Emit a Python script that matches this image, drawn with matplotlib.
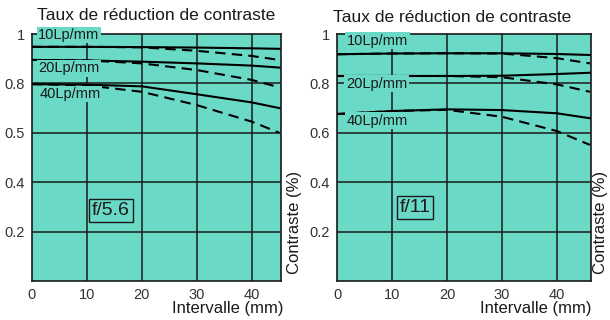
import matplotlib.pyplot as plt

# Distances from image centre (mm)
x_pts = [0, 10, 20, 30, 40, 45]
x_pts_r = [0, 10, 20, 30, 40, 46]

# f/5.6 panel: solid (sagittal) and dashed (meridional) curves
f56_10_solid = [0.948, 0.948, 0.947, 0.945, 0.942, 0.940]
f56_10_dash = [0.948, 0.948, 0.946, 0.932, 0.911, 0.895]
f56_20_solid = [0.895, 0.893, 0.888, 0.881, 0.872, 0.864]
f56_20_dash = [0.895, 0.893, 0.881, 0.854, 0.814, 0.784]
f56_40_solid = [0.797, 0.795, 0.788, 0.756, 0.723, 0.700]
f56_40_dash = [0.797, 0.792, 0.766, 0.712, 0.645, 0.600]

# f/11 panel
f11_10_solid = [0.918, 0.921, 0.922, 0.922, 0.919, 0.915]
f11_10_dash = [0.918, 0.921, 0.922, 0.921, 0.902, 0.881]
f11_20_solid = [0.830, 0.830, 0.830, 0.831, 0.838, 0.843]
f11_20_dash = [0.830, 0.830, 0.830, 0.825, 0.796, 0.766]
f11_40_solid = [0.676, 0.688, 0.695, 0.692, 0.679, 0.659]
f11_40_dash = [0.676, 0.688, 0.693, 0.665, 0.607, 0.551]

y_ticks = [0.2, 0.4, 0.6, 0.8, 1.0]
y_labels_left = ['0.2', '0.4', '0.5', '0.8', '1']
y_labels_right = ['0.2', '0.4', '0.6', '0.8', '1']
x_ticks = [0, 10, 20, 30, 40]
x_labels = ['0', '10', '20', '30', '40']

TEAL = '#6ad9c6'
INK = '#1a1a1a'

plt.rcParams['font.family'] = ['Liberation Sans', 'DejaVu Sans']

fig = plt.figure(figsize=(6.1, 3.2), dpi=100)
fig.patch.set_facecolor('white')

ax1 = fig.add_axes([32 / 610, 1 - 281 / 320, 249 / 610, 247 / 320])
ax2 = fig.add_axes([337 / 610, 1 - 281 / 320, 254 / 610, 247 / 320])


def setup(ax, xmax, ylabels):
    ax.set_facecolor(TEAL)
    ax.set_xlim(0, xmax)
    ax.set_ylim(0, 1.0)
    ax.set_xticks(x_ticks)
    ax.set_xticklabels(x_labels)
    ax.set_yticks(y_ticks)
    ax.set_yticklabels(ylabels)
    ax.tick_params(length=0, labelsize=10.5, pad=5, colors='#333333')
    for s in ax.spines.values():
        s.set_linewidth(1.2)
        s.set_color(INK)
    # grid drawn as plain lines so the curve labels can cover them
    for v in x_ticks[1:]:
        ax.axvline(v, color=INK, lw=1.1, zorder=1)
    for v in y_ticks[:-1]:
        ax.axhline(v, color=INK, lw=1.1, zorder=1)


def curves(ax, xs, pairs):
    for solid, dash in pairs:
        ax.plot(xs, solid, color='black', lw=1.5, zorder=3)
        ax.plot(xs, dash, color='black', lw=1.5, ls=(0, (5, 3)), zorder=3)


def label(ax, x, y, s):
    t = ax.text(x, y, s, fontsize=10.5, va='center', ha='left', zorder=5,
                color=INK, bbox=dict(facecolor=TEAL, edgecolor='none', pad=1))
    t.set_clip_on(False)


setup(ax1, 45.3, y_labels_left)
setup(ax2, 46.2, y_labels_right)

curves(ax1, x_pts, [(f56_10_solid, f56_10_dash),
                    (f56_20_solid, f56_20_dash),
                    (f56_40_solid, f56_40_dash)])
curves(ax2, x_pts_r, [(f11_10_solid, f11_10_dash),
                      (f11_20_solid, f11_20_dash),
                      (f11_40_solid, f11_40_dash)])

label(ax1, 1.1, 0.996, '10Lp/mm')
label(ax1, 1.1, 0.862, '20Lp/mm')
label(ax1, 1.4, 0.757, '40Lp/mm')
label(ax2, 1.8, 0.972, '10Lp/mm')
label(ax2, 1.6, 0.798, '20Lp/mm')
label(ax2, 1.8, 0.648, '40Lp/mm')

box = dict(facecolor=TEAL, edgecolor=INK, lw=1.0, boxstyle='square,pad=0.15')
ax1.text(14.4, 0.287, 'f/5.6', fontsize=14, ha='center', va='center', zorder=5,
         color=INK, bbox=box)
ax2.text(14.2, 0.296, 'f/11', fontsize=14, ha='center', va='center', zorder=5,
         color=INK, bbox=box)

title = 'Taux de réduction de contraste'
fig.text(156 / 610, 1 - 15 / 320, title, fontsize=12.5, ha='center', va='center', color=INK)
fig.text(452 / 610, 1 - 17 / 320, title, fontsize=12.5, ha='center', va='center', color=INK)

fig.text(294 / 610, 1 - 222 / 320, 'Contraste (%)', fontsize=12, rotation=90,
         ha='center', va='center', color=INK)
fig.text(601 / 610, 1 - 222 / 320, 'Contraste (%)', fontsize=12, rotation=90,
         ha='center', va='center', color=INK)

fig.text(284 / 610, 1 - 309 / 320, 'Intervalle (mm)', fontsize=12,
         ha='right', va='center', color=INK)
fig.text(591 / 610, 1 - 309 / 320, 'Intervalle (mm)', fontsize=12,
         ha='right', va='center', color=INK)

fig.savefig('out.png', dpi=100, facecolor='white')
